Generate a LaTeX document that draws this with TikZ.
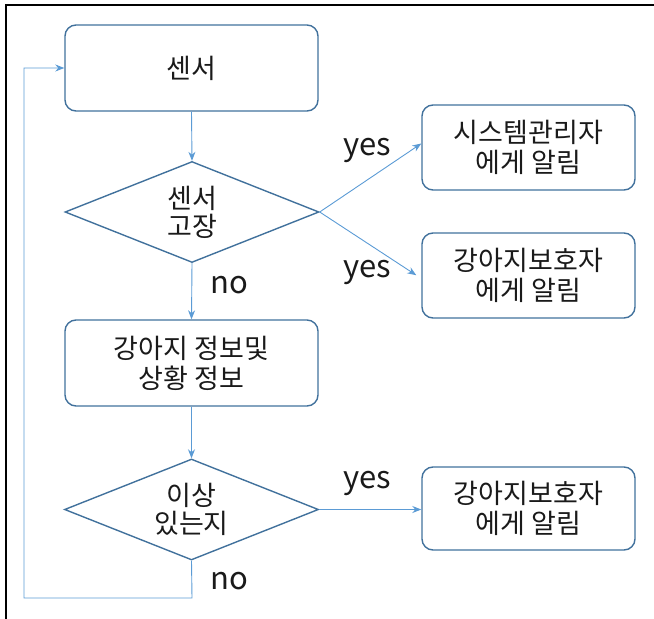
\documentclass[tikz,border=0pt]{standalone}
\usepackage{fontspec}
\setmainfont{Noto Sans CJK KR}
\usetikzlibrary{shapes.geometric,arrows.meta}
\definecolor{boxline}{HTML}{41719C}
\definecolor{conn}{HTML}{5B9BD5}
\definecolor{txt}{HTML}{1A1A1A}
\tikzset{
  procbox/.style={draw=boxline, line width=1.4pt, rounded corners=11pt, minimum width=253pt, minimum height=86pt, inner sep=0pt, align=center, text=txt, font=\fontsize{27}{30}\selectfont},
  alertbox/.style={procbox, minimum width=213pt, minimum height=85pt},
  decision/.style={draw=boxline, line width=1.4pt, shape=diamond, aspect=2.5, minimum width=254pt, minimum height=101pt, inner sep=0pt, align=center, text=txt, font=\fontsize{27}{28}\selectfont},
  conn/.style={draw=conn, line width=0.9pt, -{Stealth[length=9pt,width=7pt]}},
  lbl/.style={text=txt, font=\fontsize{31}{32}\selectfont, inner sep=0pt},
  frame/.style={draw=black, line width=1.6pt}
}
\begin{document}
\begin{tikzpicture}[x=1pt,y=-1pt]
\useasboundingbox (0,0) rectangle (654,619);
\draw[frame] (6,619) -- (6,5) -- (654,5);

\node[procbox] (sensor) at (191.5,68) {센서};
\node[decision] (d1) at (192,212) {센서\\고장};
\node[procbox] (info) at (191.5,363) {강아지 정보및\\상황 정보};
\node[decision] (d2) at (191.5,509.5) {이상\\있는지};

\node[alertbox] (sys) at (528.5,147.5) {시스템관리자\\에게 알림};
\node[alertbox] (own1) at (528.5,275.5) {강아지보호자\\에게 알림};
\node[alertbox, minimum height=83pt] (own2) at (528.5,508.5) {강아지보호자\\에게 알림};

\node[lbl] (yes1) at (367,150) {yes};
\node[lbl] (yes2) at (367,272) {yes};
\node[lbl] (yes3) at (367,483) {yes};
\node[lbl] (no1) at (229,285) {no};
\node[lbl] (no2) at (229,581) {no};

\coordinate (c1) at (192,598);
\coordinate (c2) at (24,598);
\coordinate (c3) at (24,68);

\draw[conn] (sensor.south) -- (d1.north);
\draw[conn] (d1.south) -- (info.north);
\draw[conn] (info.south) -- (d2.north);
\draw[conn] (d1.east) -- ([yshift=4pt]sys.west);
\draw[conn, shorten >=6pt] (d1.east) -- ([yshift=-3pt]own1.west);
\draw[conn] (d2.east) -- (own2.west |- d2.east);
\draw[conn] (d2.south) -- (c1) -- (c2) -- (c3) -- (sensor.west);
\end{tikzpicture}
\end{document}
